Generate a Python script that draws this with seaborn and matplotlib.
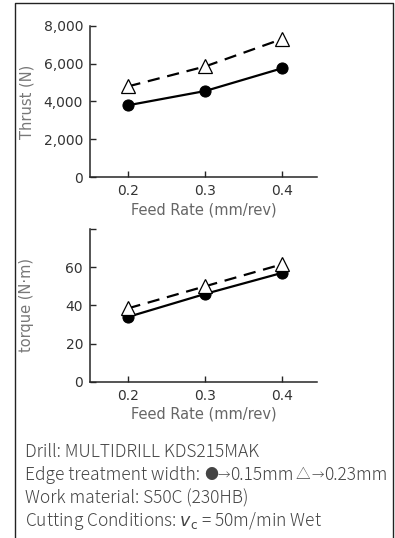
import pandas as pd
import matplotlib.pyplot as plt
import seaborn as sns

# values
feed = [0.2, 0.3, 0.4]
thrust_015 = [3800, 4550, 5750]
thrust_023 = [4800, 5850, 7300]
torque_015 = [34, 46, 57]
torque_023 = [38.5, 50, 61.5]

thrust = pd.DataFrame({'feed': feed * 2,
                       'value': thrust_015 + thrust_023,
                       'edge': ['0.15mm'] * 3 + ['0.23mm'] * 3})
torque = pd.DataFrame({'feed': feed * 2,
                       'value': torque_015 + torque_023,
                       'edge': ['0.15mm'] * 3 + ['0.23mm'] * 3})

sns.set_style("ticks")
plt.rcParams['font.family'] = ['DejaVu Sans']
plt.rcParams['axes.linewidth'] = 1.1

fig = plt.figure(figsize=(3.95, 5.38), dpi=100)
ax1 = fig.add_axes([0.228, 0.671, 0.575, 0.281])
ax2 = fig.add_axes([0.228, 0.2905, 0.575, 0.2838])


def draw(ax, df):
    sub = df[df['edge'] == '0.15mm']
    sns.lineplot(data=sub, x='feed', y='value', ax=ax, color='black', lw=1.6,
                 marker='o', markersize=8, markeredgecolor='black', markerfacecolor='black')
    sub = df[df['edge'] == '0.23mm']
    sns.lineplot(data=sub, x='feed', y='value', ax=ax, color='black', lw=1.6,
                 linestyle=(0, (5.5, 3.5)), marker='^', markersize=10,
                 markeredgecolor='black', markerfacecolor='white', markeredgewidth=0.9)
    ax.set_xlim(0.15, 0.446)
    ax.set_xticks(feed)
    ax.set_xticklabels(['0.2', '0.3', '0.4'])
    ax.set_xlabel('Feed Rate (mm/rev)', fontsize=10.5, color='#666666', labelpad=3)
    ax.tick_params(labelsize=10, labelcolor='#333333', direction='in',
                   length=4.5, width=1.0, pad=5)
    sns.despine(ax=ax)


draw(ax1, thrust)
ax1.set_ylim(0, 8000)
ax1.set_yticks([0, 2000, 4000, 6000, 8000])
ax1.set_yticklabels(['0', '2,000', '4,000', '6,000', '8,000'])
ax1.set_ylabel('Thrust (N)', fontsize=10.5, color='#777777')

draw(ax2, torque)
ax2.set_ylim(0, 80)
ax2.set_yticks([0, 20, 40, 60, 80])
ax2.set_yticklabels(['0', '20', '40', '60', ''])
ax2.set_ylabel('torque (N·m)', fontsize=10.5, color='#777777')
ax1.yaxis.set_label_coords(-0.245, 0.5)
ax2.yaxis.set_label_coords(-0.245, 0.5)

# frame around the whole figure (open at the bottom)
fig.add_artist(plt.Line2D([15 / 395, 15 / 395, 393 / 395, 393 / 395],
                          [0, 1 - 3 / 538, 1 - 3 / 538, 0],
                          transform=fig.transFigure, color='#222222', lw=1.0))

# notes below the charts
cjk = ['Noto Sans CJK JP', 'DejaVu Sans']
note_style = dict(color='#444444', fontweight='light', family=cjk)
notes = ['Drill: MULTIDRILL KDS215MAK',
         None,
         'Work material: S50C (230HB)',
         r'Cutting Conditions: $v_\mathrm{c}$ = 50m/min Wet']
for i, line in enumerate(notes):
    y = 1 - (452 + i * 23) / 538
    if line is not None:
        fig.text(25 / 395, y, line, fontsize=12.5, va='center', ha='left', **note_style)
        continue
    # edge treatment line, built in pieces so the symbols stay small
    pieces = [('Edge treatment width: ', 12.5), ('●', 10), ('→', 9), ('0.15mm', 12.5),
              (' ', 6), ('△', 10.5), (' ', 4), ('→', 9), ('0.23mm', 12.5)]
    prev = fig.text(25 / 395, y, pieces[0][0], fontsize=pieces[0][1],
                    va='center', ha='left', **note_style)
    for txt, size in pieces[1:]:
        prev = ax2.annotate(txt, xy=(1, 0.5), xycoords=prev, va='center', ha='left',
                            fontsize=size, annotation_clip=False, **note_style)

fig.savefig('out.png', dpi=100)
